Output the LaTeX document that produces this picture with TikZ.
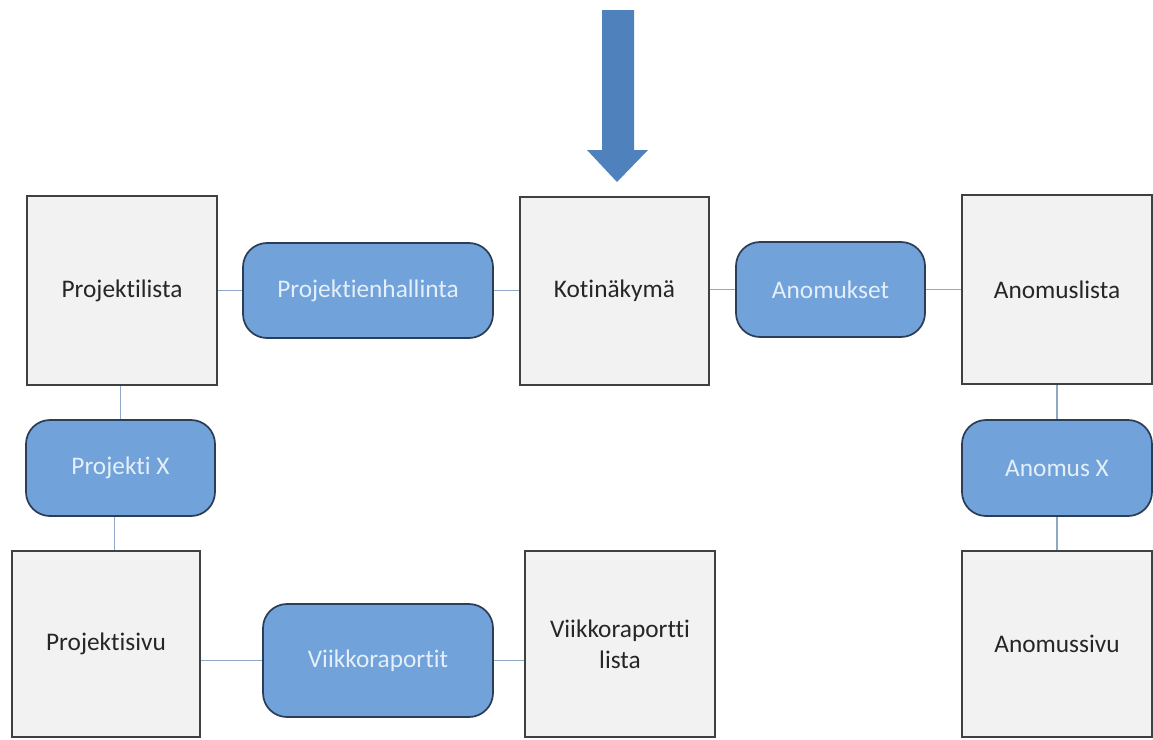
\documentclass[tikz,border=0pt]{standalone}
\usepackage{fontspec}
\setmainfont[Ligatures=NoCommon]{Carlito}
\definecolor{pagebox}{HTML}{F2F2F2}
\definecolor{pageedge}{HTML}{404040}
\definecolor{navfill}{HTML}{71A2D9}
\definecolor{navedge}{HTML}{2C3E57}
\definecolor{navtext}{HTML}{E4EFFA}
\definecolor{linkline}{HTML}{8EA8C6}
\definecolor{entryblue}{HTML}{4F81BD}
\tikzset{
  x=0.75pt, y=-0.75pt,
  pagebox/.style={draw=pageedge, line width=1.3pt, fill=pagebox, inner sep=0pt,
    font=\fontsize{19}{23}\selectfont, text=black!85, align=center},
  navbox/.style={draw=navedge, line width=1.3pt, fill=navfill, rounded corners=18pt,
    inner sep=0pt, font=\fontsize{19}{23}\selectfont, text=navtext, align=center},
  link/.style={draw=linkline, line width=1.4pt}
}
\begin{document}
\begin{tikzpicture}
\useasboundingbox (0,0) rectangle (1153,739);
% page views
\node[pagebox, minimum width=142.5pt, minimum height=141.75pt] (plista) at (122,290.5) {Projektilista};
\node[pagebox, minimum width=141.75pt, minimum height=141pt] (koti) at (614.5,291) {Kotinäkymä};
\node[pagebox, minimum width=142.5pt, minimum height=141.75pt] (alista) at (1057,289.5) {Anomuslista};
\node[pagebox, minimum width=141pt, minimum height=139.5pt] (psivu) at (106,644) {Projektisivu};
\node[pagebox, minimum width=142.5pt, minimum height=139.5pt] (vlista) at (620,644) {Viikkoraportti\\lista};
\node[pagebox, minimum width=142.5pt, minimum height=139.5pt] (asivu) at (1057,644) {Anomussivu};
% navigation steps
\node[navbox, minimum width=187.5pt, minimum height=71.25pt] (phall) at (368,290.5) {Projektienhallinta};
\node[navbox, minimum width=141.75pt, minimum height=71.25pt] (anom) at (830.5,289.5) {Anomukset};
\node[navbox, minimum width=141.75pt, minimum height=72pt] (projx) at (120.5,468) {Projekti X};
\node[navbox, minimum width=172.5pt, minimum height=84.75pt] (vrap) at (378,660.5) {Viikkoraportit};
\node[navbox, minimum width=142.5pt, minimum height=72pt] (anomx) at (1057,468) {Anomus X};
% links
\draw[link] (plista.east) -- (plista.east -| phall.west);
\draw[link] (phall.east) -- (phall.east -| koti.west);
\draw[link] (anom.west) -- (anom.west -| koti.east);
\draw[link] (anom.east) -- (anom.east -| alista.west);
\draw[link] (projx.north) -- (projx.north |- plista.south);
\draw[link] (projx.south) ++(-6,0) coordinate (pxs) -- (pxs |- psivu.north);
\draw[link] (vrap.west) -- (vrap.west -| psivu.east);
\draw[link] (vrap.east) -- (vrap.east -| vlista.west);
\draw[link] (alista) -- (anomx);
\draw[link] (anomx) -- (asivu);
% entry arrow into the home view
\fill[entryblue] (602,10) -- (634,10) -- (634,150) -- (648,150) -- (617,182)
  -- (587,150) -- (602,150) -- cycle;
\end{tikzpicture}
\end{document}
